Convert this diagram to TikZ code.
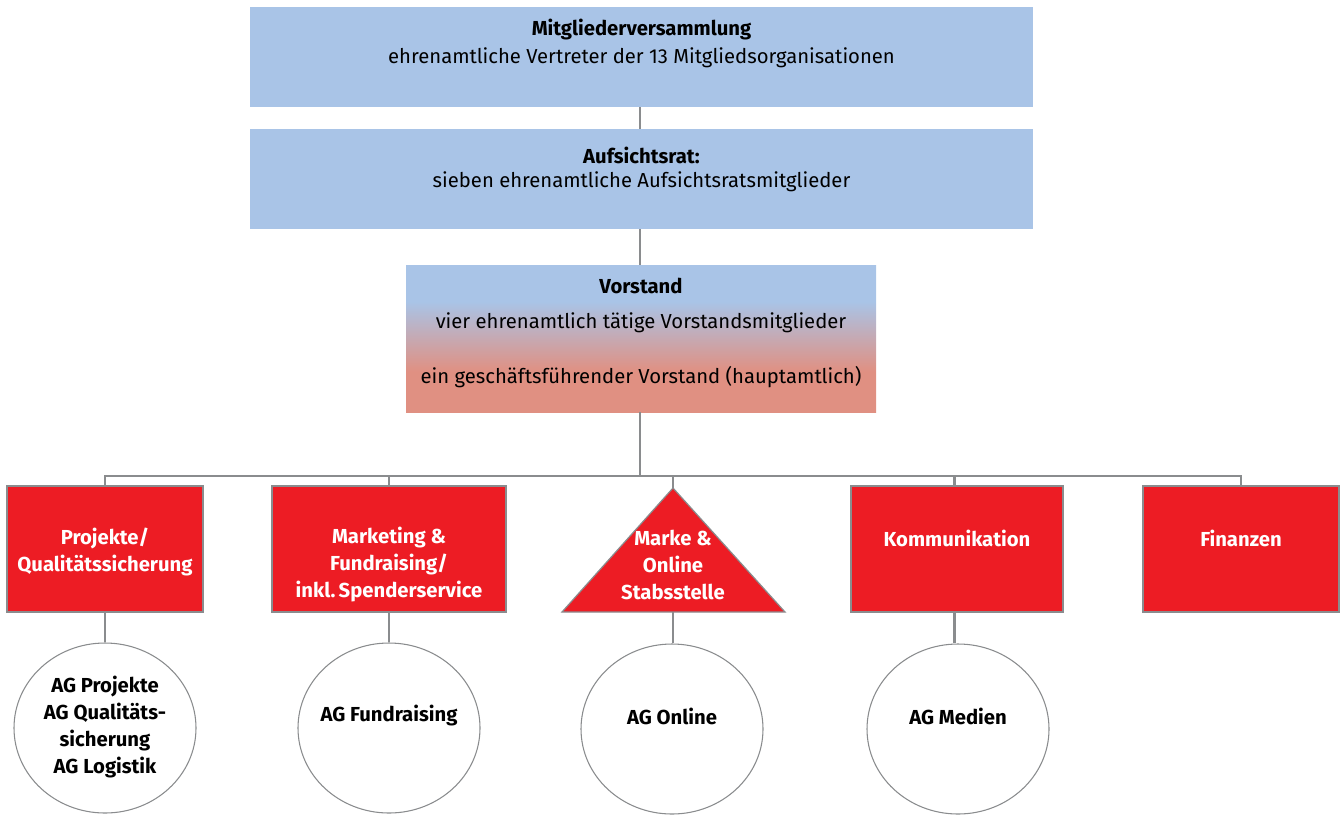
\documentclass[tikz,border=0pt]{standalone}
\usepackage{fontspec}
\setmainfont{Fira Sans}
\usetikzlibrary{shapes.geometric}
\definecolor{boxblue}{RGB}{169,196,231}
\definecolor{boxred}{RGB}{237,28,36}
\definecolor{softred}{RGB}{224,144,130}
\definecolor{linegray}{RGB}{138,140,142}
\pgfdeclareverticalshading{vorstandshade}{100bp}{color(0bp)=(softred); color(38.8bp)=(softred); color(62.6bp)=(boxblue); color(100bp)=(boxblue)}
\tikzset{
  px/.style={x=0.75pt,y=-0.75pt},
  bluebox/.style={fill=boxblue,draw=none,inner sep=0pt},
  redbox/.style={fill=boxred,draw=linegray,line width=0.9pt,inner sep=0pt,minimum height=94.5pt},
  agcircle/.style={ellipse,draw=linegray,line width=0.8pt,fill=white,inner sep=0pt,minimum width=136.5pt,minimum height=127.5pt},
  conn/.style={draw=linegray,line width=2pt},
  txt/.style={font=\fontsize{15.2}{20.25}\selectfont,align=center,inner sep=0pt},
  btxt/.style={font=\fontsize{15.2}{20.25}\selectfont\bfseries,align=center,inner sep=0pt},
  wtxt/.style={font=\fontsize{15.2}{20.25}\selectfont\bfseries,align=center,inner sep=0pt,text=white},
}
\begin{document}
\begin{tikzpicture}[px]
\useasboundingbox (0,0) rectangle (1344,814);
% top boxes
\node[bluebox,minimum width=587.25pt,minimum height=75pt] (mv) at (641.5,57) {};
\node[bluebox,minimum width=587.25pt,minimum height=75pt] (ar) at (641.5,179) {};
% Vorstand with gradient
\node[shade,shading=vorstandshade,inner sep=0pt,minimum width=352.5pt,minimum height=110.25pt] (vs) at (641,338.5) {};
% red boxes
\node[redbox,minimum width=147pt] (r1) at (105,549) {};
\node[redbox,minimum width=175.5pt] (r2) at (389,549) {};
\coordinate (tritop) at (673,488);
\coordinate (tribot) at (673,612);
\filldraw[fill=boxred,draw=linegray,line width=0.9pt] (tritop) -- (785,612) -- (562,612) -- cycle;
\node[redbox,minimum width=159pt] (r4) at (957,549) {};
\node[redbox,minimum width=147pt] (r5) at (1241,549) {};
% circles
\node[agcircle] (c1) at (105,728) {};
\node[agcircle] (c2) at (389,728) {};
\node[agcircle] (c3) at (672,729) {};
\node[agcircle] (c4) at (958,729) {};
% connectors
\coordinate (bus) at (640,476);
\draw[conn,line width=1.5pt] (mv.south -| bus) -- (ar.north -| bus);
\draw[conn,line width=1.5pt] (ar.south -| bus) -- (vs.north -| bus);
\draw[conn] (vs.south -| bus) -- (bus);
\draw[conn] (r1.north) |- (r5.north |- bus) -- (r5.north);
\draw[conn] (r2.north) -- (r2.north |- bus);
\draw[conn] (tritop) -- (tritop |- bus);
\draw[conn] ([xshift=-2pt]r4.north) -- ([xshift=-2pt]r4.north |- bus);
\draw[conn] (r1.south) -- (c1.north);
\draw[conn] (r2.south) -- (c2.north);
\draw[conn] (tribot) -- (tribot |- c3.north);
\draw[conn] ([xshift=-2pt]r4.south) -- ([xshift=-2pt]r4.south |- c4.north);
% texts
\node[btxt] (tmv1) at (641.5,30) {Mitgliederversammlung};
\node[txt] (tmv2) at (641.5,58) {ehrenamtliche Vertreter der 13 Mitgliedsorganisationen};
\node[btxt] (tar1) at (641.5,155) {Aufsichtsrat:};
\node[txt] (tar2) at (641.5,182) {sieben ehrenamtliche Aufsichtsratsmitglieder};
\node[btxt] (tvs1) at (641,286) {Vorstand};
\node[txt] (tvs2) at (641,323) {vier ehrenamtlich tätige Vorstandsmitglieder};
\node[txt] (tvs3) at (641,377) {ein geschäftsführender Vorstand (hauptamtlich)};
\node[wtxt] (tr1) at (105,551.5) {Projekte/\\Qualitätssicherung};
\node[wtxt] (tr2) at (389,565) {Marketing \&\\Fundraising/\\inkl.\,Spenderservice};
\node[wtxt] (tr3) at (673,565) {Marke \&\\Online\\Stabsstelle};
\node[wtxt] (tr4) at (957,538) {Kommunikation};
\node[wtxt] (tr5) at (1241,538) {Finanzen};
\node[btxt] (tc1) at (105,727.5) {AG Projekte\\AG Qualitäts-\\sicherung\\AG Logistik};
\node[btxt] (tc2) at (389,716) {AG Fundraising};
\node[btxt] (tc3) at (672,716) {AG Online};
\node[btxt] (tc4) at (958,716) {AG Medien};
\end{tikzpicture}
\end{document}
